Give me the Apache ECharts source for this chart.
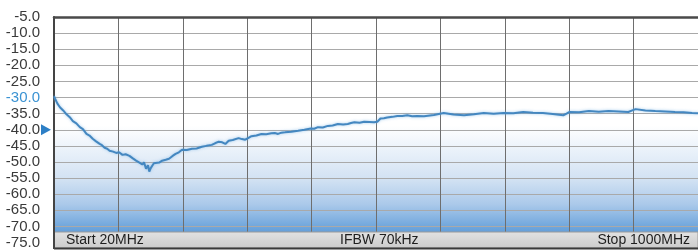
<!DOCTYPE html>
<html>
  <head>
    <meta charset="utf-8">
    <title>trace</title>
    <style>
        *{
            padding: 0;
            margin: 0;
        }
        body{
            width: 698px;
            height: 250px;
            background-color: #ffffff;
        }
        #chart{
            width: 698px;
            height: 250px;
        }
    </style>
  </head>
  <body>
    <div id="chart"></div>
    <script type="text/javascript" src="https://cdn.jsdelivr.net/npm/echarts@6/dist/echarts.min.js"></script>
    <script type="text/javascript">
        // 频率 (MHz)
        var freqs = [20, 21.5, 25, 29, 34, 39, 44, 48.7, 54, 59.3, 64, 69.4, 74, 78.9, 84, 89.5, 93, 97, 101, 104.6,
            110, 114.7, 119, 124.2, 129, 134.8, 140, 144.9, 150, 154.4, 157, 160, 163, 165, 167, 169.5, 172, 175,
            180, 184.6, 190, 195, 200, 205, 210, 214.8, 222, 229.9, 237, 245, 252, 260, 265, 270.7, 276, 280.8, 285.8,
            292, 300.9, 306, 311, 316, 320.5, 328, 335.6, 343, 350.7, 356, 361, 366, 371.4, 381, 391.5, 401, 411, 416,
            421.7, 429, 436.8, 444, 452, 460, 467, 472, 477, 485, 492, 500, 507, 512, 516.8, 522, 527, 535, 542.5,
            550, 557.6, 565, 572.7, 583, 598, 613, 628, 644, 659, 674, 689, 704, 719, 734, 749, 764, 779, 795, 800,
            804, 819, 834, 849, 864, 879, 894, 900, 905, 920, 935, 950, 965, 978, 991, 1000];
        // 幅度 (dB)
        var levels = [-29.6, -30.3, -31.8, -33.0, -34.0, -35.2, -36.1, -37.3, -38.0, -39.2, -39.8, -41.3, -41.8, -42.8, -43.6, -44.4, -44.8, -45.6, -45.9, -46.5,
            -46.8, -47.2, -47.0, -47.8, -47.6, -48.1, -48.9, -49.6, -50.2, -50.8, -50.1, -52.1, -51.0, -53.0, -52.0, -51.2, -50.4, -49.9,
            -50.2, -49.6, -49.3, -49.0, -48.2, -47.5, -47.0, -46.2, -46.3, -45.9, -45.8, -45.3, -45.0, -44.7, -44.2, -43.7, -43.9, -44.4, -43.4,
            -43.2, -42.6, -42.9, -43.1, -42.5, -42.0, -41.8, -41.3, -41.4, -41.1, -41.0, -41.3, -40.9, -40.8, -40.6, -40.3, -40.0, -39.6, -39.7,
            -39.2, -39.3, -38.8, -38.7, -38.2, -38.4, -38.2, -37.9, -37.7, -37.8, -37.5, -37.6, -37.7, -37.5, -36.5, -36.4, -36.2, -36.0, -35.7,
            -35.7, -35.5, -35.8, -35.7, -35.8, -35.4, -34.8, -35.3, -35.5, -35.2, -34.8, -35.0, -34.8, -34.9, -34.5, -34.7, -34.8, -35.1, -35.5, -35.0,
            -34.5, -34.6, -34.2, -34.4, -34.2, -34.3, -34.5, -34.0, -33.6, -34.0, -34.2, -34.3, -34.5, -34.6, -34.8, -34.9];
        var yTicks = [-75, -5, 5];
        var bandTexts = ['Start 20MHz', 'IFBW 70kHz', 'Stop 1000MHz'];
        var refLevel = -40;
        var hiLabel = -30;

        var points = [];
        for (var i = 0; i < freqs.length; i++) {
            points.push([freqs[i], levels[i]]);
        }

        var myChart = echarts.init(document.getElementById('chart'));
        var option = {
            animation: false,
            grid: {
                left: 54,
                right: -5,
                top: 17,
                bottom: 5.5,
                show: true,
                borderWidth: 0,
                backgroundColor: {
                    type: 'linear', x: 0, y: 0, x2: 0, y2: 1,
                    colorStops: [
                        {offset: 0, color: '#ffffff'},
                        {offset: 0.48, color: '#ffffff'},
                        {offset: 0.57, color: '#eef4fb'},
                        {offset: 0.72, color: '#d2e2f3'},
                        {offset: 0.83, color: '#abc9ea'},
                        {offset: 0.94, color: '#6aa3db'},
                        {offset: 1, color: '#5893d4'}
                    ]
                }
            },
            xAxis: [{
                type: 'value',
                min: freqs[0],
                max: freqs[freqs.length - 1],
                show: false,
                splitLine: {show: false}
            }, {
                // 10 等分的竖线
                type: 'value',
                min: 0,
                max: 10,
                interval: 1,
                position: 'top',
                axisLine: {show: true, lineStyle: {color: '#4a4a4a', width: 2.5}},
                axisTick: {show: false},
                axisLabel: {show: false},
                splitLine: {show: true, lineStyle: {color: '#6e6e6e', width: 1}}
            }],
            yAxis: {
                type: 'value',
                min: yTicks[0],
                max: yTicks[1],
                interval: yTicks[2],
                axisLine: {show: true, lineStyle: {color: '#444444', width: 2}},
                axisTick: {show: false},
                axisLabel: {
                    margin: 14,
                    fontSize: 15,
                    fontFamily: 'Liberation Sans Narrow, Liberation Sans, Arial',
                    color: function (v) {
                        return Number(v) === hiLabel ? '#3b93d3' : '#3a3a3a';
                    },
                    formatter: function (v) {
                        return v.toFixed(1);
                    }
                },
                splitLine: {show: true, lineStyle: {color: '#a9a9a9', width: 1}}
            },
            series: [{
                type: 'line',
                data: points,
                xAxisIndex: 0,
                showSymbol: false,
                smooth: false,
                lineStyle: {color: '#4487c0', width: 2, shadowColor: 'rgba(120,180,230,0.7)', shadowBlur: 3},
                markPoint: {
                    silent: true,
                    symbol: 'triangle',
                    symbolSize: [11, 10],
                    symbolRotate: -90,
                    symbolOffset: [-8, 0],
                    itemStyle: {color: '#2d7fc6'},
                    label: {show: false},
                    data: [{coord: [freqs[0], refLevel]}]
                }
            }],
            graphic: [
                {
                    type: 'rect',
                    shape: {x: 54, y: 232, width: 644, height: 16},
                    style: {
                        fill: {
                            type: 'linear', x: 0, y: 0, x2: 0, y2: 1,
                            colorStops: [{offset: 0, color: '#e2e2e2'}, {offset: 1, color: '#cbcbcb'}]
                        },
                        stroke: '#9a9a9a',
                        lineWidth: 1
                    },
                    z: 10
                },
                {
                    type: 'line',
                    shape: {x1: 54, y1: 248.5, x2: 698, y2: 248.5},
                    style: {stroke: '#3a3a3a', lineWidth: 2},
                    z: 11
                },
                {
                    type: 'line',
                    shape: {x1: 54, y1: 230, x2: 54, y2: 249},
                    style: {stroke: '#444444', lineWidth: 2},
                    z: 11
                },
                {
                    type: 'text', left: 66, top: 233, z: 12,
                    style: {text: bandTexts[0], fill: '#1e1e1e', font: '14px Liberation Sans'}
                },
                {
                    type: 'text', left: 340, top: 233, z: 12,
                    style: {text: bandTexts[1], fill: '#1e1e1e', font: '14px Liberation Sans'}
                },
                {
                    type: 'text', right: 8, top: 233, z: 12,
                    style: {text: bandTexts[2], fill: '#1e1e1e', font: '14px Liberation Sans'}
                }
            ]
        };
        myChart.setOption(option);
    </script>
  </body>
</html>
